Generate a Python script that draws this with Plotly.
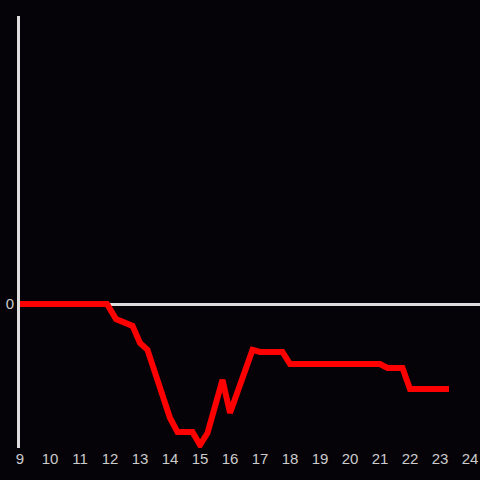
import plotly.graph_objects as go

hours = [9, 11.9, 12.2, 12.75, 13.0, 13.25, 14.0, 14.25, 14.75, 15.0, 15.25, 15.75, 16.0,
         16.75, 17.0, 17.75, 18.0, 21.0, 21.25, 21.75, 22.0, 23.3]
values = [0, 0, -5, -7.3, -13, -15.3, -38, -42.7, -42.7, -47, -43, -25.3, -36.3,
          -15.3, -16, -16, -20, -20, -21.3, -21.3, -28.3, -28.3]
x_ticks = list(range(9, 25))

bg = "#050308"
fig = go.Figure()
fig.add_trace(go.Scatter(x=hours, y=values, mode="lines",
                         line=dict(color="#ff0000", width=6), hoverinfo="skip"))
fig.update_layout(
    width=480, height=480,
    paper_bgcolor=bg, plot_bgcolor=bg,
    margin=dict(l=20, r=0, t=16, b=32),
    showlegend=False,
    font=dict(family="Liberation Sans, Arial, sans-serif", size=15, color="#cccccc"),
)
fig.update_xaxes(range=[9, 24 + 1/3], tickvals=x_ticks, ticktext=[str(t) for t in x_ticks],
                 showgrid=False, zeroline=False, showline=False, ticks="")
fig.update_yaxes(range=[-48, 96], tickvals=[0], ticktext=["0"], showgrid=False,
                 zeroline=True, zerolinecolor="#dddddd", zerolinewidth=3,
                 showline=True, linecolor="#dddddd", linewidth=3, ticks="")
fig.write_html("out.html", config={"displayModeBar": False},
               post_script="document.body.style.margin='0';document.body.style.background='#050308';document.body.style.overflow='hidden';")
